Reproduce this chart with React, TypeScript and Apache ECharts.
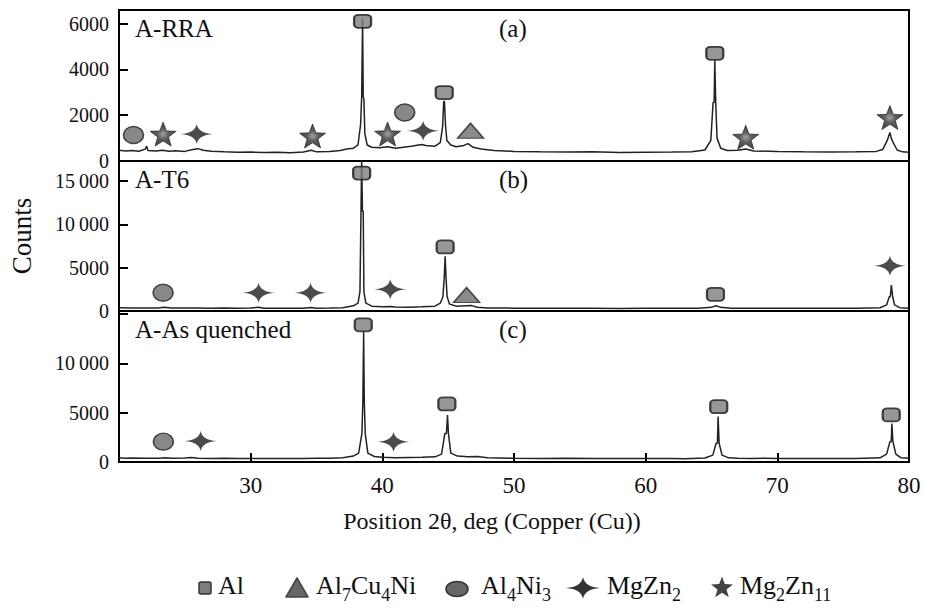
import React, { useEffect, useRef } from "react";
import * as echarts from "echarts";

// ---------- data ----------
const panelNames = ["A-RRA", "A-T6", "A-As quenched"];
const panelTags = ["(a)", "(b)", "(c)"];
const yMax = [6600, 17300, 15300];
const yInterval = [2000, 5000, 5000];
const yLabelMax = [6000, 15000, 10000];

const rraCurve = [
  [20, 470], [20.5, 440], [21, 460], [21.5, 430], [22, 520], [22.1, 650], [22.2, 460], [22.8, 440],
  [23.3, 470], [23.8, 430], [24.3, 450], [25, 420], [25.6, 500], [26, 540], [26.4, 470], [27, 430],
  [28, 400], [29, 380], [30, 390], [31, 370], [32, 380], [33, 360], [34, 390], [34.6, 470], [35, 400],
  [36, 420], [36.8, 460], [37.3, 520], [37.8, 560], [38.15, 700], [38.35, 1600], [38.43, 2800],
  [38.5, 6200], [38.55, 2800], [38.6, 2700], [38.67, 1200], [38.85, 700], [39.2, 600], [39.8, 580],
  [40.4, 620], [41, 560], [41.6, 600], [42.2, 640], [43, 720], [43.3, 680], [44, 650], [44.4, 800],
  [44.58, 1500], [44.66, 2600], [44.72, 2600], [44.8, 1550], [44.9, 900], [45.2, 700], [45.6, 620],
  [46.2, 680], [46.5, 760], [46.9, 600], [47.5, 520], [48.5, 460], [50, 420], [52, 400], [54, 390],
  [56, 400], [58, 370], [60, 380], [62, 390], [63.5, 400], [64.5, 480], [64.95, 900], [65.12, 2560],
  [65.2, 2560], [65.25, 4400], [65.32, 2560], [65.42, 1000], [65.7, 560], [66.2, 460], [67, 470],
  [67.6, 520], [68.2, 440], [70, 420], [72, 400], [74, 390], [76, 400], [77.5, 420], [78, 500],
  [78.35, 900], [78.55, 1250], [78.65, 1000], [78.8, 800], [79.1, 480], [79.5, 400], [80, 380],
];

const t6Curve = [
  [20, 380], [21, 350], [22, 360], [23, 340], [23.4, 420], [24, 350], [25, 340], [26, 360], [27, 330],
  [28, 340], [29, 320], [30, 340], [30.6, 420], [31, 330], [32, 320], [33, 330], [34, 320], [34.6, 400],
  [35, 330], [36, 340], [37, 380], [37.8, 600], [38.15, 900], [38.3, 2200], [38.38, 11500],
  [38.43, 17600], [38.49, 11500], [38.55, 11500], [38.6, 2200], [38.75, 900], [39.2, 560], [40, 480],
  [40.6, 520], [41, 460], [42, 440], [43, 480], [44, 560], [44.4, 900], [44.6, 1640], [44.7, 3780],
  [44.77, 6300], [44.84, 3780], [44.92, 1640], [45.1, 800], [45.6, 560], [46.3, 600], [46.8, 620],
  [47.2, 440], [48, 360], [50, 330], [52, 320], [54, 310], [56, 320], [58, 300], [60, 320], [62, 310],
  [64, 330], [65, 420], [65.34, 600], [65.7, 420], [66.5, 330], [68, 320], [70, 310], [72, 320],
  [74, 310], [76, 320], [77.8, 380], [78.3, 700], [78.5, 1640], [78.58, 1640], [78.66, 3000],
  [78.76, 1640], [78.9, 700], [79.3, 380], [80, 330],
];

const aqCurve = [
  [20, 420], [20.5, 380], [21, 400], [22, 380], [23, 390], [23.5, 440], [24, 380], [25, 400], [25.5, 450],
  [26, 380], [27, 360], [28, 370], [29, 350], [30, 360], [31, 350], [32, 360], [33, 350], [34, 360],
  [35, 370], [36, 380], [37, 420], [37.8, 600], [38.2, 900], [38.45, 2900], [38.52, 6100],
  [38.58, 13200], [38.63, 6100], [38.7, 2900], [38.9, 900], [39.4, 560], [40, 480], [41, 440],
  [42, 460], [43, 480], [44, 520], [44.5, 800], [44.75, 2900], [44.87, 2900], [44.95, 4770],
  [45.02, 2900], [45.2, 900], [45.7, 600], [46.5, 520], [47.2, 560], [48, 420], [50, 380], [52, 360],
  [54, 370], [56, 350], [58, 360], [60, 350], [62, 360], [63, 340], [64.5, 400], [65.1, 700],
  [65.35, 1900], [65.45, 1900], [65.5, 4600], [65.58, 1900], [65.8, 700], [66.3, 420], [67, 380],
  [68, 360], [69, 370], [70, 350], [72, 360], [74, 350], [76, 360], [77.8, 420], [78.3, 800],
  [78.55, 2060], [78.65, 2060], [78.7, 3900], [78.78, 2060], [79, 800], [79.4, 420], [80, 380],
];

// phase markers: [2θ, counts]
const rraAl = [[38.5, 6104], [44.7, 2993], [65.25, 4708]];
const rraAl7Cu4Ni = [[46.7, 1322]];
const rraAl4Ni3 = [[21.1, 1136], [41.7, 2117]];
const rraMgZn2 = [[25.9, 1175], [43.1, 1322]];
const rraMg2Zn11 = [[23.35, 1175], [34.7, 1093], [40.4, 1179], [67.6, 1037], [78.55, 1900]];

const t6Al = [[38.43, 15910], [44.77, 7385], [65.3, 1919]];
const t6Al7Cu4Ni = [[46.4, 1840]];
const t6Al4Ni3 = [[23.35, 2105]];
const t6MgZn2 = [[30.6, 2105], [34.55, 2105], [40.6, 2500], [78.55, 5210]];
const t6Mg2Zn11: number[][] = [];

const aqAl = [[38.55, 13900], [44.9, 5880], [65.55, 5600], [78.65, 4770]];
const aqAl7Cu4Ni: number[][] = [];
const aqAl4Ni3 = [[23.37, 2060]];
const aqMgZn2 = [[26.2, 2130], [40.85, 2060]];
const aqMg2Zn11: number[][] = [];

const phaseKeys = ["Al", "Al7Cu4Ni", "Al4Ni3", "MgZn2", "Mg2Zn11"];
const phaseRich = [
  "{n|Al}",
  "{n|Al}{s|7}{n|Cu}{s|4}{n|Ni}",
  "{n|Al}{s|4}{n|Ni}{s|3}",
  "{n|MgZn}{s|2}",
  "{n|Mg}{s|2}{n|Zn}{s|11}",
];

const xTitle = "Position 2θ, deg (Copper (Cu))";
const yTitle = "Counts";

// ---------- shapes ----------
const STAR_D =
  "M0,-1 L0.245,-0.337 L0.951,-0.309 L0.396,0.129 L0.588,0.809 L0,0.42 L-0.588,0.809 L-0.396,0.129 L-0.951,-0.309 L-0.245,-0.337 Z";
const FOUR_D = "M0,-1 Q0.1,-0.1 1,0 Q0.1,0.1 0,1 Q-0.1,0.1 -1,0 Q-0.1,-0.1 0,-1 Z";
const ELLIPSE_D =
  "M0,-1 C0.552,-1 1,-0.552 1,0 C1,0.552 0.552,1 0,1 C-0.552,1 -1,0.552 -1,0 C-1,-0.552 -0.552,-1 0,-1 Z";

echarts.graphic.registerShape("starShape", echarts.graphic.extendPath(STAR_D, {}) as any);
echarts.graphic.registerShape("fourStarShape", echarts.graphic.extendPath(FOUR_D, {}) as any);

const FONT = "Liberation Serif";

const starFill = () =>
  new echarts.graphic.RadialGradient(0.5, 0.5, 0.5, [
    { offset: 0, color: "#8a8a8a" },
    { offset: 0.45, color: "#333" },
    { offset: 1, color: "#1a1a1a" },
  ]);

const symbolDefs: Record<string, any> = {
  Al: {
    symbol: "roundRect",
    symbolSize: [17, 13],
    itemStyle: { color: "#7d7d7d", borderColor: "#1a1a1a", borderWidth: 2 },
  },
  Al7Cu4Ni: {
    symbol: "triangle",
    symbolSize: [26, 15],
    itemStyle: { color: "#6e6e6e", borderColor: "#2a2a2a", borderWidth: 1.5 },
  },
  Al4Ni3: {
    symbol: "path://" + ELLIPSE_D,
    symbolSize: [20, 17],
    itemStyle: { color: "#6a6a6a", borderColor: "#222", borderWidth: 1.5 },
  },
  MgZn2: {
    symbol: "path://" + FOUR_D,
    symbolSize: [32, 20],
    itemStyle: { color: "#1e1e1e" },
  },
  Mg2Zn11: {
    symbol: "path://" + STAR_D,
    symbolSize: [26, 24],
    itemStyle: { color: starFill(), borderColor: "#1a1a1a", borderWidth: 0.8 },
  },
};

const panels = [
  { curve: rraCurve, marks: [rraAl, rraAl7Cu4Ni, rraAl4Ni3, rraMgZn2, rraMg2Zn11] },
  { curve: t6Curve, marks: [t6Al, t6Al7Cu4Ni, t6Al4Ni3, t6MgZn2, t6Mg2Zn11] },
  { curve: aqCurve, marks: [aqAl, aqAl7Cu4Ni, aqAl4Ni3, aqMgZn2, aqMg2Zn11] },
];

// ---------- layout ----------
const GL = 119;
const GW = 790;
const gridTops = [10, 161, 311];
const gridHeights = [151, 150, 151];

function fmtY(v: number, interval: number, labelMax: number) {
  if (v % interval !== 0 || v > labelMax) return "";
  if (v >= 10000) {
    const s = String(v);
    return s.slice(0, s.length - 3) + "\u2009" + s.slice(s.length - 3);
  }
  return String(v);
}

export default function App() {
  const ref = useRef<HTMLDivElement>(null);

  useEffect(() => {
    document.body.style.margin = "0";
    if (!ref.current) return;
    const chart = echarts.init(ref.current, undefined, { renderer: "svg" });

    const grid = gridTops.map((t, i) => ({
      left: GL,
      top: t,
      width: GW,
      height: gridHeights[i],
      show: true,
      borderColor: "#000",
      borderWidth: 2,
      backgroundColor: "transparent",
      containLabel: false,
    }));

    const xAxis = gridTops.map((_, i) => ({
      type: "value",
      gridIndex: i,
      min: 20,
      max: 80,
      interval: 10,
      axisLine: { show: false },
      splitLine: { show: false },
      axisTick:
        i === 2
          ? { show: true, inside: true, length: 9, lineStyle: { color: "#000", width: 2 } }
          : { show: false },
      axisLabel:
        i === 2
          ? {
              show: true,
              showMinLabel: false,
              fontFamily: FONT,
              fontSize: 23,
              color: "#111",
              margin: 12,
            }
          : { show: false },
    }));

    const yAxis = gridTops.map((_, i) => ({
      type: "value",
      gridIndex: i,
      min: 0,
      max: yMax[i],
      interval: yInterval[i],
      axisLine: { show: false },
      splitLine: { show: false },
      axisTick: { show: true, inside: true, length: 9, lineStyle: { color: "#000", width: 2 } },
      axisLabel: {
        fontFamily: FONT,
        fontSize: 20,
        color: "#111",
        margin: 10,
        formatter: (v: number) => fmtY(v, yInterval[i], yLabelMax[i]),
      },
    }));

    const series: any[] = [];
    panels.forEach((p, i) => {
      series.push({
        type: "line",
        xAxisIndex: i,
        yAxisIndex: i,
        data: p.curve,
        showSymbol: false,
        symbol: "none",
        silent: true,
        clip: true,
        lineStyle: { color: "#222", width: 1.5 },
        z: 2,
      });
      p.marks.forEach((m, k) => {
        if (!m.length) return;
        const def = symbolDefs[phaseKeys[k]];
        series.push({
          type: "scatter",
          name: phaseKeys[k],
          xAxisIndex: i,
          yAxisIndex: i,
          data: m,
          symbol: def.symbol,
          symbolSize: def.symbolSize,
          itemStyle: def.itemStyle,
          silent: true,
          clip: false,
          z: 5,
        });
      });
    });

    const graphic: any[] = [];
    panelNames.forEach((name, i) => {
      graphic.push({
        type: "text",
        x: 135,
        y: gridTops[i] + 18,
        style: {
          text: name,
          fontFamily: FONT,
          fontSize: 25,
          fill: "#111",
          align: "left",
          verticalAlign: "middle",
        },
      });
      graphic.push({
        type: "text",
        x: 499,
        y: gridTops[i] + 18,
        style: {
          text: panelTags[i],
          fontFamily: FONT,
          fontSize: 25,
          fill: "#111",
          align: "left",
          verticalAlign: "middle",
        },
      });
    });
    graphic.push({
      type: "text",
      x: 22,
      y: 236,
      rotation: Math.PI / 2,
      style: {
        text: yTitle,
        fontFamily: FONT,
        fontSize: 27,
        fill: "#111",
        align: "center",
        verticalAlign: "middle",
      },
    });
    graphic.push({
      type: "text",
      x: 492,
      y: 521,
      style: {
        text: xTitle,
        fontFamily: FONT,
        fontSize: 24,
        fill: "#111",
        align: "center",
        verticalAlign: "middle",
      },
    });

    // legend
    const LY = 588;
    const iconX = [205, 297, 457, 583, 722];
    const textX = [218, 316, 481, 607, 740];
    const rich = {
      n: { fontFamily: FONT, fontSize: 26, lineHeight: 30, verticalAlign: "top", fill: "#111" },
      s: {
        fontFamily: FONT,
        fontSize: 18,
        lineHeight: 18,
        padding: [14, 0, 0, 0],
        verticalAlign: "top",
        fill: "#111",
      },
    };
    const icons = [
      {
        type: "rect",
        shape: { x: iconX[0] - 6, y: LY - 6, width: 12, height: 12, r: 2 },
        style: { fill: "#7d7d7d", stroke: "#333", lineWidth: 1.5 },
      },
      {
        type: "polygon",
        shape: { points: [[iconX[1], LY - 10], [iconX[1] + 11, LY + 9], [iconX[1] - 11, LY + 9]] },
        style: { fill: "#666", stroke: "#444", lineWidth: 1.5, lineJoin: "round" },
      },
      {
        type: "ellipse",
        shape: { cx: iconX[2], cy: LY + 1, rx: 11, ry: 7.5 },
        style: { fill: "#666", stroke: "#333", lineWidth: 1.5 },
      },
      {
        type: "fourStarShape",
        x: iconX[3],
        y: LY,
        scaleX: 17,
        scaleY: 11,
        style: { fill: "#333" },
      },
      {
        type: "starShape",
        x: iconX[4],
        y: LY,
        scaleX: 11.5,
        scaleY: 11.5,
        style: { fill: "#444" },
      },
    ];
    icons.forEach((ic) => graphic.push(ic));
    phaseRich.forEach((t, k) => {
      graphic.push({
        type: "text",
        x: textX[k],
        y: LY - 1,
        style: { text: t, rich, align: "left", verticalAlign: "middle" },
      });
    });

    chart.setOption({
      animation: false,
      backgroundColor: "#fff",
      grid,
      xAxis,
      yAxis,
      series,
      graphic,
    });

    return () => chart.dispose();
  }, []);

  return <div ref={ref} style={{ width: 925, height: 608 }} />;
}
